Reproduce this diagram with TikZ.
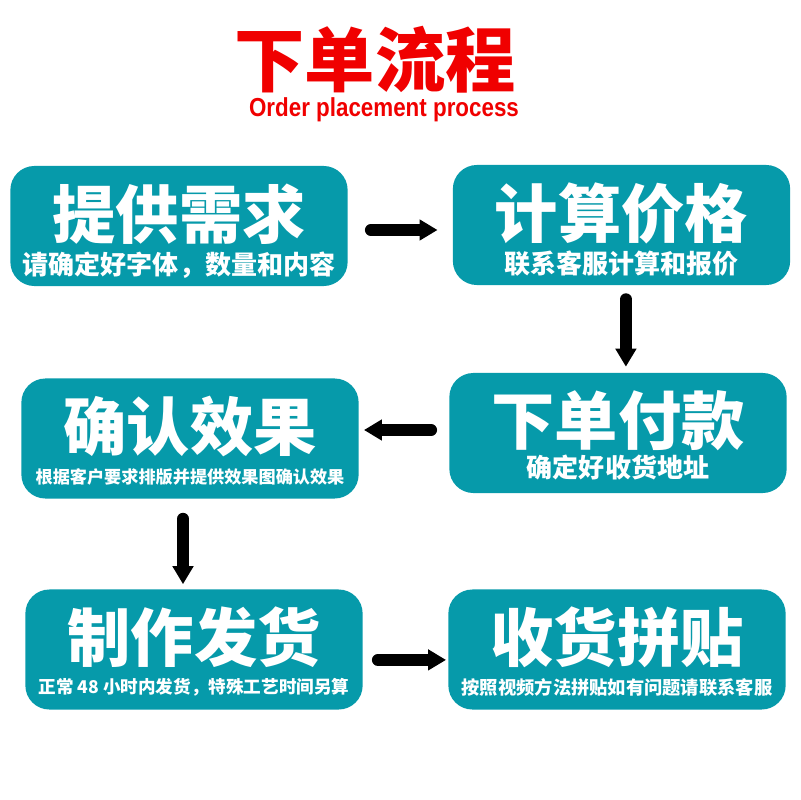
\documentclass[tikz,border=0pt]{standalone}
\usepackage{fontspec}
\setmainfont{Liberation Sans}
\newfontfamily\cjk{Noto Sans CJK SC}
\usetikzlibrary{arrows.meta}
\definecolor{boxteal}{RGB}{6,154,170}
\definecolor{titlered}{RGB}{240,0,0}

\begin{document}
\begin{tikzpicture}[
  x=0.025cm, y=-0.025cm,
  stepbox/.style={rectangle, rounded corners=0.6cm, fill=boxteal, minimum width=8.43cm, minimum height=3cm, inner sep=0pt},
  bigtext/.style={text=white, inner sep=0pt, font=\cjk\bfseries\fontsize{45}{45}\selectfont},
  smalltext/.style={text=white, inner sep=0pt, font=\cjk\bfseries\fontsize{18.5}{18.5}\selectfont},
  flowarrow/.style={line width=0.3cm, line cap=round, -{Triangle[length=0.45cm,width=0.5cm]}}
]
  \useasboundingbox (0,0) rectangle (800,800);

  % Titel
  \node[text=titlered, inner sep=0pt, font=\cjk\bfseries\fontsize{50}{50}\selectfont] (title) at (375,60) {下单流程};
  \node[text=titlered, inner sep=0pt, font=\bfseries\fontsize{18.5}{18.5}\selectfont, xscale=0.86] (subtitle) at (384,110) {Order placement process};

  % Kästen
  \node[stepbox] (need) at (179,226) {};
  \node[stepbox] (price) at (621.5,225) {};
  \node[stepbox] (pay) at (618,433) {};
  \node[stepbox] (proof) at (190,438.5) {};
  \node[stepbox] (make) at (194,649.5) {};
  \node[stepbox] (paste) at (617,649.5) {};

  % Texte
  \node[bigtext] (needT) at ([yshift=0.3cm]need.center) {提供需求};
  \node[smalltext] (needS) at ([yshift=-0.97cm]need.center) {请确定好字体，数量和内容};
  \node[bigtext] (priceT) at ([yshift=0.3cm]price.center) {计算价格};
  \node[smalltext] (priceS) at ([yshift=-0.97cm]price.center) {联系客服计算和报价};
  \node[bigtext] (payT) at ([yshift=0.3cm]pay.center) {下单付款};
  \node[smalltext] (payS) at ([yshift=-0.86cm]pay.center) {确定好收货地址};
  \node[bigtext] (proofT) at ([yshift=0.3cm]proof.center) {确认效果};
  \node[smalltext, font=\cjk\bfseries\fontsize{12.2}{12.2}\selectfont] (proofS) at ([yshift=-0.96cm]proof.center) {根据客户要求排版并提供效果图确认效果};
  \node[bigtext] (makeT) at ([yshift=0.3cm]make.center) {制作发货};
  \node[smalltext, font=\cjk\bfseries\fontsize{12.5}{12.5}\selectfont] (makeS) at ([yshift=-0.95cm]make.center) {正常 48 小时内发货，特殊工艺时间另算};
  \node[bigtext] (pasteT) at ([yshift=0.3cm]paste.center) {收货拼贴};
  \node[smalltext, font=\cjk\bfseries\fontsize{13}{13}\selectfont] (pasteS) at ([yshift=-0.95cm]paste.center) {按照视频方法拼贴如有问题请联系客服};

  % Pfeile
  \draw[flowarrow, shorten <=0.575cm, shorten >=0.375cm] ([yshift=-0.1cm]need.east) -- ([yshift=-0.1cm]need.east -| price.west);
  \draw[flowarrow, shorten <=0.35cm, shorten >=0.15cm] ([xshift=0.11cm]price.south) -- ([xshift=0.11cm]price.south |- pay.north);
  \draw[flowarrow, shorten <=0.45cm, shorten >=0.125cm] ([yshift=0.075cm]pay.west) -- ([yshift=0.075cm]pay.west -| proof.east);
  \draw[flowarrow, shorten <=0.5cm, shorten >=0.125cm] ([xshift=-0.175cm]proof.south) -- ([xshift=-0.175cm]proof.south |- make.north);
  \draw[flowarrow, shorten <=0.375cm, shorten >=0.05cm] ([yshift=-0.26cm]make.east) -- ([yshift=-0.26cm]make.east -| paste.west);
\end{tikzpicture}
\end{document}
